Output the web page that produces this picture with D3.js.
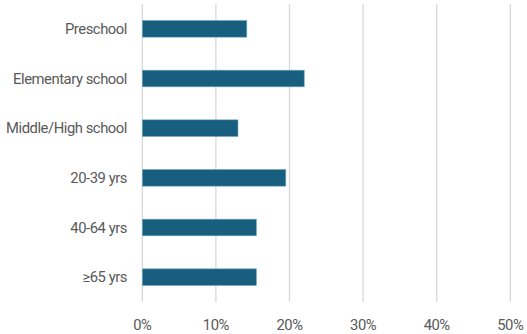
<!DOCTYPE html>
<html><head><meta charset="utf-8">
<script src="https://cdn.jsdelivr.net/npm/d3@7"></script>
<style>body{margin:0;background:#fff}svg{display:block}</style>
</head><body>
<script>
const categories = ["Preschool","Elementary school","Middle/High school","20-39 yrs","40-64 yrs","≥65 yrs"];
const values = [0.142, 0.220, 0.130, 0.195, 0.155, 0.155];
const ticks = [0,0.1,0.2,0.3,0.4,0.5];

const W=527,H=334;
const svg=d3.select("body").append("svg").attr("width",W).attr("height",H);
const x=d3.scaleLinear().domain([0,0.5]).range([142.3,510.3]);
const y=d3.scaleBand().domain(categories).range([4,302]).paddingInner(0.665).paddingOuter(0.3325);
const font="Roboto, sans-serif";

svg.append("g").selectAll("line").data(ticks).join("line")
  .attr("x1",d=>x(d)).attr("x2",d=>x(d)).attr("y1",4).attr("y2",302)
  .attr("stroke","#d9d9d9").attr("stroke-width",1.3);

svg.append("g").selectAll("rect").data(values).join("rect")
  .attr("x",x(0)).attr("y",(d,i)=>y(categories[i]))
  .attr("width",d=>x(d)-x(0)).attr("height",y.bandwidth())
  .attr("fill","#185e7f").attr("stroke","#6fa8c4").attr("stroke-width",0.6);

svg.append("g").selectAll("text").data(categories).join("text")
  .attr("x",127).attr("y",d=>y(d)+y.bandwidth()/2).attr("dy","0.36em")
  .attr("text-anchor","end").attr("font-family",font).attr("font-size",14.8)
  .attr("letter-spacing",-0.45)
  .attr("fill","#595959").text(d=>d);

svg.append("g").selectAll("text").data(ticks).join("text")
  .attr("x",d=>x(d)).attr("y",325).attr("dy","0.36em")
  .attr("text-anchor","middle").attr("font-family",font).attr("font-size",14.8)
  .attr("letter-spacing",-0.45)
  .attr("fill","#595959").text(d=>d3.format(".0%")(d));
</script>
</body></html>
